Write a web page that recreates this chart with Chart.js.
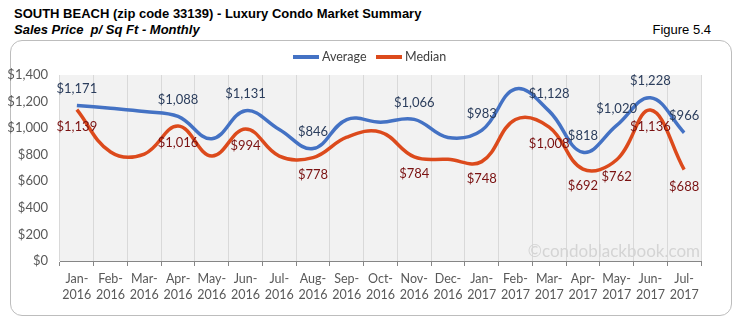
<!DOCTYPE html>
<html>
<head>
<meta charset="utf-8">
<script src="https://cdn.jsdelivr.net/npm/chart.js@4.4.1/dist/chart.umd.min.js"></script>
<style>
    html, body { margin: 0; padding: 0; background: #fff; }
    #wrap { position: relative; width: 735px; height: 327px; overflow: hidden; }
    .head { position: absolute; font-family: "Liberation Sans", Arial, sans-serif; font-size: 13px; line-height: 15px; color: #000; white-space: nowrap; }
    #title { left: 14px; top: 6px; font-weight: bold; }
    #subtitle { left: 14px; top: 22px; font-weight: bold; font-style: italic; }
    #figure { right: 24px; top: 22px; }
    #frame { position: absolute; left: 10px; top: 40px; width: 720px; height: 274px; border: 1px solid #bdbdbd; border-radius: 12px; }
    canvas { position: absolute; left: 0; top: 0; }
</style>
</head>
<body>
<div id="wrap">
    <div id="title" class="head">SOUTH BEACH (zip code 33139) - Luxury Condo Market Summary</div>
    <div id="subtitle" class="head">Sales Price&nbsp; p/ Sq Ft - Monthly</div>
    <div id="figure" class="head">Figure 5.4</div>
    <div id="frame"></div>
    <canvas id="salesChart" width="735" height="327"></canvas>
</div>
<script>
// datos
const categories = ['Jan-2016', 'Feb-2016', 'Mar-2016', 'Apr-2016', 'May-2016', 'Jun-2016', 'Jul-2016',
    'Aug-2016', 'Sep-2016', 'Oct-2016', 'Nov-2016', 'Dec-2016', 'Jan-2017', 'Feb-2017', 'Mar-2017',
    'Apr-2017', 'May-2017', 'Jun-2017', 'Jul-2017'];
const average = [1171, 1150, 1125, 1088, 920, 1131, 990, 846, 1065, 1045, 1066, 930, 983, 1295, 1128, 818, 1020, 1228, 966];
const median = [1139, 820, 805, 1016, 790, 994, 790, 778, 932, 970, 784, 765, 748, 1065, 1008, 692, 762, 1136, 688];
const labeledIdx = [0, 3, 5, 7, 10, 12, 14, 15, 16, 17, 18];
const yTicks = [0, 200, 400, 600, 800, 1000, 1200, 1400];

const BLUE = '#4472c4';
const RED = '#dc4a1c';
const money = v => '$' + v.toLocaleString('en-US');

const plotBg = {
    id: 'plotBg',
    beforeDraw(chart) {
        const { ctx, chartArea: a } = chart;
        ctx.save();
        ctx.fillStyle = '#f2f2f2';
        ctx.fillRect(a.left, a.top, a.right - a.left, a.bottom - a.top);
        ctx.restore();
    },
    beforeDatasetsDraw(chart) {
        // marca de agua
        const { ctx, chartArea: a } = chart;
        ctx.save();
        ctx.font = '17px Lato, sans-serif';
        ctx.fillStyle = '#d4d4d4';
        ctx.textAlign = 'right';
        ctx.textBaseline = 'alphabetic';
        ctx.fillText('\u00A9condoblackbook.com', a.right - 1, a.bottom - 4);
        ctx.restore();
    }
};

const pointLabels = {
    id: 'pointLabels',
    afterDatasetsDraw(chart) {
        const ctx = chart.ctx;
        chart.data.datasets.forEach((ds, di) => {
            const meta = chart.getDatasetMeta(di);
            ctx.save();
            ctx.font = '13px Lato, sans-serif';
            ctx.fillStyle = ds.labelColor;
            ctx.textAlign = 'center';
            ctx.textBaseline = 'middle';
            labeledIdx.forEach(i => {
                const pt = meta.data[i];
                const y = ds.labelAbove ? pt.y - 17 : pt.y + 17;
                ctx.fillText(money(ds.data[i]), pt.x, y);
            });
            ctx.restore();
        });
    }
};

const legendLine = {
    id: 'legendLine',
    afterDraw(chart) {
        const ctx = chart.ctx;
        const items = [
            { x: 293, ds: chart.data.datasets[0] },
            { x: 376, ds: chart.data.datasets[1] }
        ];
        ctx.save();
        ctx.font = '12.5px Lato, sans-serif';
        ctx.textBaseline = 'middle';
        ctx.textAlign = 'left';
        items.forEach(it => {
            ctx.strokeStyle = it.ds.borderColor;
            ctx.lineWidth = 4;
            ctx.beginPath();
            ctx.moveTo(it.x, 57);
            ctx.lineTo(it.x + 26, 57);
            ctx.stroke();
            ctx.fillStyle = '#404040';
            ctx.fillText(it.ds.label, it.x + 29, 57);
        });
        ctx.restore();
    }
};

new Chart(document.getElementById('salesChart').getContext('2d'), {
    type: 'line',
    data: {
        labels: categories,
        datasets: [{
            label: 'Average',
            data: average,
            borderColor: BLUE,
            backgroundColor: BLUE,
            borderWidth: 3.5,
            tension: 0.4,
            pointRadius: 0,
            labelColor: '#2b3d5c',
            labelAbove: true
        }, {
            label: 'Median',
            data: median,
            borderColor: RED,
            backgroundColor: RED,
            borderWidth: 3.5,
            tension: 0.4,
            pointRadius: 0,
            labelColor: '#7a1212',
            labelAbove: false
        }]
    },
    options: {
        responsive: false,
        animation: false,
        layout: { padding: { left: 0, right: 34, top: 75, bottom: 0 } },
        plugins: {
            legend: { display: false },
            tooltip: { enabled: false }
        },
        scales: {
            x: {
                offset: true,
                afterFit: s => { s.height = 66; },
                grid: { offset: true, color: '#d9d9d9', tickColor: '#868686', tickLength: 5 },
                border: { color: '#868686' },
                ticks: {
                    padding: 5,
                    maxRotation: 0,
                    autoSkip: false,
                    color: '#595959',
                    font: { family: 'Lato, sans-serif', size: 12.5, lineHeight: 1.3 },
                    callback: function (v) {
                        const p = this.getLabelForValue(v).split('-');
                        return [p[0] + '-', p[1]];
                    }
                }
            },
            y: {
                min: 0,
                max: 1400,
                afterFit: s => { s.width = 60; },
                afterBuildTicks: s => { s.ticks = yTicks.map(v => ({ value: v })); },
                grid: { display: false, drawTicks: false },
                border: { display: false },
                ticks: {
                    padding: 12,
                    color: '#595959',
                    font: { family: 'Lato, sans-serif', size: 13 },
                    callback: v => money(v)
                }
            }
        }
    },
    plugins: [plotBg, pointLabels, legendLine]
});
</script>
</body>
</html>
